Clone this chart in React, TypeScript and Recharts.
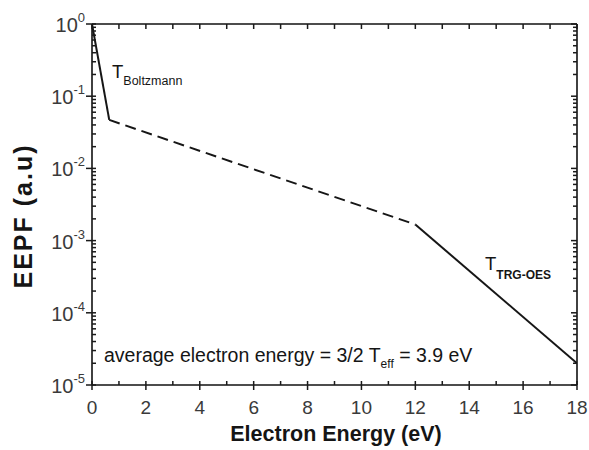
import React from 'react';
import { LineChart, Line, XAxis, YAxis, Customized } from 'recharts';

// Breakpoints of the EEPF curve (electron energy in eV, EEPF in a.u.)
const energies = [0, 0.64, 12, 18];
const eepf = [1, 0.047, 0.00167, 2.0e-5];
// Segment i joins point i and point i+1
const segmentKeys = ['boltzmann', 'bridge', 'trgoes'];

const xMajorTicks = [0, 2, 4, 6, 8, 10, 12, 14, 16, 18];
const xMinorTicks = [1, 3, 5, 7, 9, 11, 13, 15, 17];
const yMajorExponents = [0, -1, -2, -3, -4, -5];
const yMinorMultipliers = [2, 3, 4, 5, 6, 7, 8, 9];

const data = energies.map((x, i) => {
  const row: Record<string, number> = { x };
  segmentKeys.forEach((k, s) => {
    if (i === s || i === s + 1) row[k] = eepf[i];
  });
  return row;
});

const xTicks = [...xMajorTicks, ...xMinorTicks].sort((a, b) => a - b);
const yTicks: number[] = [];
yMajorExponents.forEach((e) => yTicks.push(Math.pow(10, e)));
yMajorExponents.slice(0, -1).forEach((e) => {
  yMinorMultipliers.forEach((m) => yTicks.push(m * Math.pow(10, e - 1)));
});
yTicks.sort((a, b) => a - b);

const FONT = '"Liberation Sans", Arial, Helvetica, sans-serif';
const AXIS_COLOR = '#111';
const TICK_COLOR = '#1a1a1a';
const LABEL_COLOR = '#3a3a3a';

const isMajorLog = (v: number) => {
  const e = Math.log10(v);
  return Math.abs(e - Math.round(e)) < 1e-6;
};

const renderBottomTick = (props: any) => {
  const { x, y, payload, index } = props;
  const v = payload.value;
  const major = xMajorTicks.includes(v);
  return (
    <g key={`b-${index}`}>
      <rect x={x - 0.75} y={y - 4} width={1.5} height={major ? 9 : 4} fill={TICK_COLOR} />
      {major && (
        <text x={x} y={y + 29} textAnchor="middle" fontSize={19} fontFamily={FONT} fill={LABEL_COLOR}>
          {v}
        </text>
      )}
    </g>
  );
};

const renderTopTick = (props: any) => {
  const { x, y, index } = props;
  return (
    <g key={`t-${index}`}>
      <rect x={x - 0.75} y={y} width={1.5} height={5} fill={TICK_COLOR} />
    </g>
  );
};

const renderLeftTick = (props: any) => {
  const { x, y, payload, index } = props;
  const v = payload.value;
  const major = isMajorLog(v);
  const e = Math.round(Math.log10(v));
  return (
    <g key={`l-${index}`}>
      <rect x={major ? x - 6 : x} y={y - 0.75} width={major ? 10 : 4} height={1.5} fill={TICK_COLOR} />
      {major && (
        <text x={x - 7} y={y + 8} textAnchor="end" fontSize={20} fontFamily={FONT} fill={LABEL_COLOR}>
          10
          <tspan dy={-10} fontSize={13}>
            {e}
          </tspan>
        </text>
      )}
    </g>
  );
};

const renderRightTick = (props: any) => {
  const { x, y, payload, index } = props;
  const major = isMajorLog(payload.value);
  return (
    <g key={`r-${index}`}>
      <rect x={x - (major ? 6 : 4)} y={y - 0.75} width={major ? 6 : 4} height={1.5} fill={TICK_COLOR} />
    </g>
  );
};

const Annotations = () => (
  <g fontFamily={FONT} fill="#151515">
    <text x={112} y={78} fontSize={18.5}>
      T
      <tspan dy={7} fontSize={12.5}>
        Boltzmann
      </tspan>
    </text>
    <text x={485} y={270} fontSize={18.5}>
      T
      <tspan dy={9} fontSize={12} fontWeight="bold">
        TRG-OES
      </tspan>
    </text>
    <text x={104} y={362} fontSize={19.5}>
      average electron energy = 3/2 T
      <tspan dy={6} fontSize={12}>
        eff
      </tspan>
      <tspan dy={-6}> = 3.9 eV</tspan>
    </text>
    <text
      transform="translate(32,216) rotate(-90)"
      textAnchor="middle"
      fontWeight="bold"
      fontSize={25}
      letterSpacing={2}
    >
      EEPF (a.u)
    </text>
    <text x={336} y={441} textAnchor="middle" fontWeight="bold" fontSize={21.5}>
      Electron Energy (eV)
    </text>
  </g>
);

const lineStyles: Record<string, { dash?: string; frame: boolean }> = {
  boltzmann: { frame: false },
  bridge: { dash: '11 6', frame: false },
  trgoes: { frame: true },
};

export default function App() {
  return (
    <div style={{ position: 'absolute', left: 0, top: 0, width: 589, height: 450, background: '#fff' }}>
      <LineChart width={589} height={450} data={data} margin={{ top: 23, right: 0, bottom: 0, left: 0 }}>
        <XAxis
          xAxisId="bottom"
          dataKey="x"
          type="number"
          domain={[0, 18]}
          ticks={xTicks}
          interval={0}
          allowDataOverflow
          height={65}
          tickSize={0}
          tickMargin={0}
          tickLine={false}
          axisLine={{ stroke: AXIS_COLOR, strokeWidth: 1.6 }}
          tick={renderBottomTick}
        />
        <XAxis
          xAxisId="top"
          orientation="top"
          dataKey="x"
          type="number"
          domain={[0, 18]}
          ticks={xTicks}
          interval={0}
          allowDataOverflow
          height={1}
          tickSize={0}
          tickMargin={0}
          tickLine={false}
          axisLine={{ stroke: AXIS_COLOR, strokeWidth: 1.6 }}
          tick={renderTopTick}
        />
        <YAxis
          yAxisId="left"
          scale="log"
          type="number"
          domain={[1e-5, 1]}
          ticks={yTicks}
          interval={0}
          allowDataOverflow
          width={92}
          tickSize={0}
          tickMargin={0}
          tickLine={false}
          axisLine={{ stroke: AXIS_COLOR, strokeWidth: 1.6 }}
          tick={renderLeftTick}
        />
        <YAxis
          yAxisId="right"
          orientation="right"
          scale="log"
          type="number"
          domain={[1e-5, 1]}
          ticks={yTicks}
          interval={0}
          allowDataOverflow
          width={12}
          tickSize={0}
          tickMargin={0}
          tickLine={false}
          axisLine={{ stroke: AXIS_COLOR, strokeWidth: 1.6 }}
          tick={renderRightTick}
        />
        {segmentKeys.map((k) => (
          <Line
            key={k}
            xAxisId={lineStyles[k].frame ? 'top' : 'bottom'}
            yAxisId={lineStyles[k].frame ? 'right' : 'left'}
            dataKey={k}
            type="linear"
            stroke="#161616"
            strokeWidth={2}
            strokeDasharray={lineStyles[k].dash}
            dot={false}
            activeDot={false}
            isAnimationActive={false}
            connectNulls={false}
          />
        ))}
        <Customized component={<Annotations />} />
      </LineChart>
    </div>
  );
}
